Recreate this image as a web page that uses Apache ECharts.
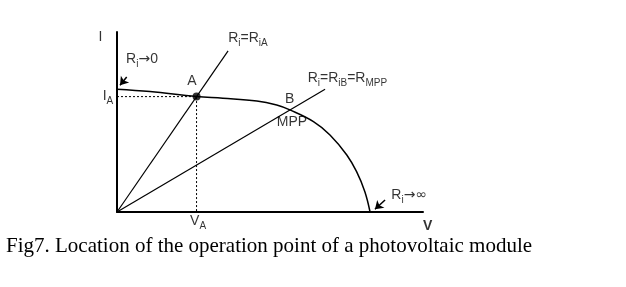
<!DOCTYPE html>
<html>
<head>
<meta charset="utf-8">
<script src="https://cdn.jsdelivr.net/npm/echarts@6/dist/echarts.min.js"></script>
<style>
html,body{margin:0;padding:0;background:#fff;}
#c{width:626px;height:287px;}
</style>
</head>
<body>
<div id="c"></div>
<script>
// I-V curve of the module (V and I in relative units 0..100)
var curveV = [0, 10.8, 26.0, 34.6, 45.7, 52.2, 56.5, 64.2, 69.6, 75.1, 78.3, 81.0, 82.7];
var curveI = [68.2, 66.9, 64.1, 63.2, 61.7, 59.4, 56.7, 50.2, 42.8, 31.7, 22.4, 11.3, 0];
// operating points
var pointA = [26.0, 64.1];
var pointB = [56.5, 56.7];
// load lines from origin (end points)
var loadLineAEnd = [36.3, 89.5];
var loadLineBEnd = [68.0, 68.2];
// arrows [tail, tip]
var arrowRi0 = [[3.17, 75.0], [0.98, 70.4]];
var arrowRiInf = [[87.6, 6.7], [84.3, 1.5]];
// annotation texts and anchor points (data units)
var annoText = [
  '{n|I}',
  '{n|R}{s|i}{a|→}{n|0}',
  '{n|I}{s|A}',
  '{n|A}',
  '{n|R}{s|i}{n|=R}{s|iA}',
  '{n|R}{s|i}{n|=R}{s|iB}{n|=R}{s|MPP}',
  '{n|B}',
  '{n|MPP}',
  '{n|R}{s|i}{a|→∞}',
  '{n|V}{s|A}',
  '{b|V}'
];
var annoX = [-5.39, 8.17, -2.94, 24.5, 42.8, 75.3, 56.4, 57.2, 95.5, 26.5, 101.5];
var annoY = [96.4, 83.9, 63.3, 71.7, 95.8, 73.3, 61.7, 48.9, 8.3, -6.1, -7.8];
var caption = 'Fig7. Location of the operation point of a photovoltaic module';

var curveData = curveV.map(function(v, i){ return [v, curveI[i]]; });
var annoData = annoText.map(function(t, i){ return {value:[annoX[i], annoY[i]], name:t}; });

var chart = echarts.init(document.getElementById('c'), null, {renderer:'canvas'});
var black = '#000';
chart.setOption({
  animation: false,
  backgroundColor: '#fff',
  title: {
    text: caption,
    left: 1, top: 231,
    textStyle: {fontFamily: 'Liberation Serif', fontSize: 21, fontWeight: 'normal', color: black}
  },
  grid: {left: 117, top: 32, width: 306, height: 180},
  xAxis: {
    type: 'value', min: 0, max: 100,
    axisLine: {show: true, lineStyle: {color: black, width: 2}},
    axisTick: {show: false}, axisLabel: {show: false}, splitLine: {show: false}
  },
  yAxis: {
    type: 'value', min: 0, max: 100,
    axisLine: {show: true, lineStyle: {color: black, width: 2}},
    axisTick: {show: false}, axisLabel: {show: false}, splitLine: {show: false}
  },
  series: [
    {type: 'line', data: curveData, smooth: 0.4, symbol: 'none',
     lineStyle: {color: black, width: 1.5}},
    {type: 'line', data: [[0,0], loadLineAEnd], symbol: 'none',
     lineStyle: {color: black, width: 1.2}},
    {type: 'line', data: [[0,0], loadLineBEnd], symbol: 'none',
     lineStyle: {color: black, width: 1.2}},
    {type: 'line', data: [[0, pointA[1]], pointA, [pointA[0], 0]], symbol: 'none',
     lineStyle: {color: black, width: 1, type: [2, 2]}},
    {type: 'scatter', data: [pointA], symbolSize: 8, itemStyle: {color: black}},
    {type: 'lines', coordinateSystem: 'cartesian2d',
     symbol: ['none', 'arrow'], symbolSize: 8,
     lineStyle: {color: black, width: 1.5, opacity: 1},
     data: [{coords: arrowRi0}, {coords: arrowRiInf}]},
    {type: 'scatter', data: annoData, symbolSize: 0, clip: false, silent: true,
     label: {
       show: true, position: 'inside', color: black,
       formatter: function(p){ return p.name; },
       rich: {
         n: {fontFamily: 'Liberation Sans', fontSize: 14, color: black, lineHeight: 17, verticalAlign: 'top'},
         a: {fontFamily: 'DejaVu Sans', fontSize: 14, color: black, lineHeight: 17, verticalAlign: 'top'},
         s: {fontFamily: 'Liberation Sans', fontSize: 10, color: black, lineHeight: 10, verticalAlign: 'bottom'},
         b: {fontFamily: 'Liberation Sans', fontSize: 14, fontWeight: 'bold', color: black, lineHeight: 17}
       }
     }}
  ]
});
</script>
</body>
</html>
